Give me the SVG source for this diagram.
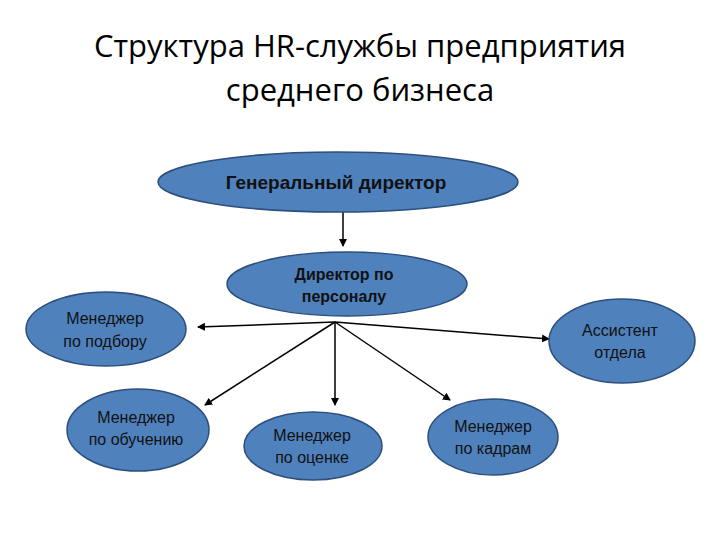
<svg xmlns="http://www.w3.org/2000/svg" width="720" height="540" viewBox="0 0 720 540">
<style>
.n{fill:#4f81bd;stroke:#2c4f7c;stroke-width:1.5}
.t{font-family:"Liberation Sans",Arial,sans-serif;font-size:16px;fill:#111;text-anchor:middle}
.b{font-weight:bold}
.c line{stroke:#000;stroke-width:1.5;marker-end:url(#a)}
</style>
<defs><marker id="a" markerWidth="8" markerHeight="8" refX="7" refY="4" orient="auto" markerUnits="userSpaceOnUse"><path d="M0,0L8,4L0,8z" fill="#000"/></marker></defs>
<rect width="720" height="540" fill="#fff"/>
<text x="360" y="57" font-family="Open Sans,Liberation Sans,sans-serif" font-size="31" fill="#000" text-anchor="middle">Структура HR-службы предприятия</text>
<text x="360" y="101" font-family="Open Sans,Liberation Sans,sans-serif" font-size="31" fill="#000" text-anchor="middle">среднего бизнеса</text>
<g class="c">
<line x1="343" y1="212" x2="343" y2="246"/>
<line x1="335" y1="322" x2="198" y2="327"/>
<line x1="335" y1="322" x2="549" y2="339"/>
<line x1="335" y1="322" x2="205" y2="405"/>
<line x1="335" y1="322" x2="335" y2="405"/>
<line x1="335" y1="322" x2="450" y2="400"/>
</g>
<g id="gd"><ellipse class="n" cx="338" cy="182" rx="180" ry="30"/><text class="t b" x="336" y="189" style="font-size:19px">Генеральный директор</text></g>
<g id="dp"><ellipse class="n" cx="347" cy="284" rx="120" ry="32"/><text class="t b" x="344" y="280">Директор по</text><text class="t b" x="344" y="302">персоналу</text></g>
<g id="m1"><ellipse class="n" cx="106" cy="329" rx="80" ry="37"/><text class="t" x="105" y="324">Менеджер</text><text class="t" x="105" y="347">по подбору</text></g>
<g id="as"><ellipse class="n" cx="622" cy="341" rx="73" ry="42"/><text class="t" x="620" y="336">Ассистент</text><text class="t" x="620" y="358">отдела</text></g>
<g id="m2"><ellipse class="n" cx="138" cy="430" rx="71" ry="41"/><text class="t" x="136" y="423">Менеджер</text><text class="t" x="136" y="445">по обучению</text></g>
<g id="m3"><ellipse class="n" cx="313" cy="446" rx="69" ry="34"/><text class="t" x="312" y="441">Менеджер</text><text class="t" x="312" y="463">по оценке</text></g>
<g id="m4"><ellipse class="n" cx="493" cy="437" rx="65" ry="38"/><text class="t" x="493" y="432">Менеджер</text><text class="t" x="493" y="454">по кадрам</text></g>
</svg>
